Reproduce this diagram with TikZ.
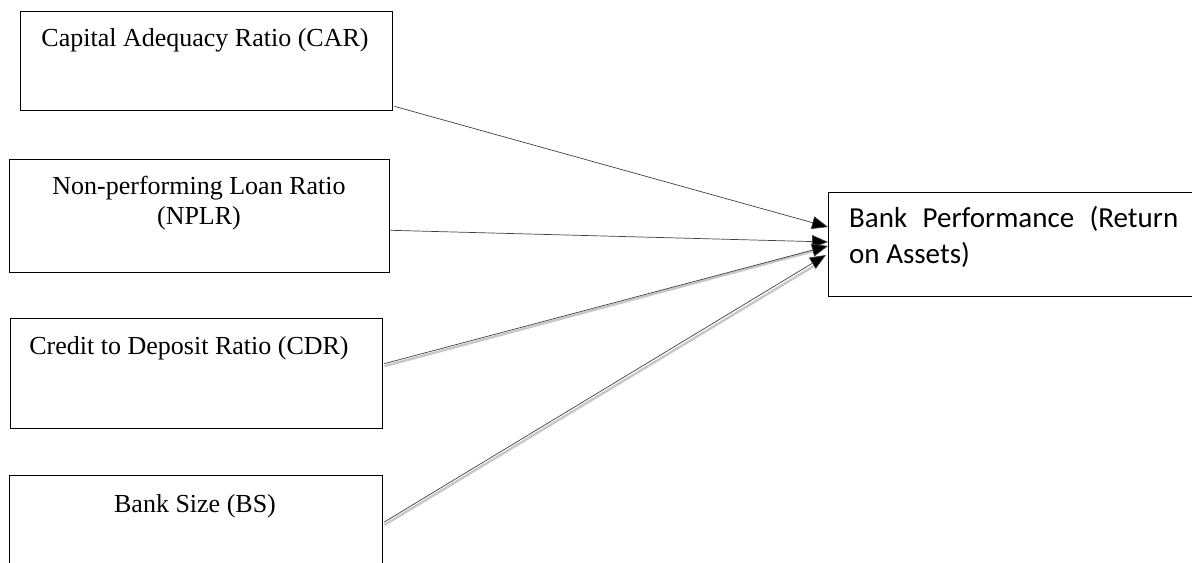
\documentclass[tikz,border=0pt]{standalone}
\usepackage{fontspec}
\setmainfont{Liberation Serif}
\newfontfamily\calib{Carlito}
\usetikzlibrary{arrows.meta,calc}
\begin{document}
\begin{tikzpicture}[x=1bp,y=-1bp,
  box/.style={draw=black,line width=1.3bp,rectangle,inner sep=0pt,anchor=north west},
  lbl/.style={font=\fontsize{26bp}{30bp}\selectfont,anchor=base,inner sep=0pt},
  conn/.style={draw=black!75,line width=0.7bp,-{Triangle[length=16bp,width=13bp,fill=black]}},
  shadeline/.style={draw=black!22,line width=2.4bp}]
\useasboundingbox (0,0) rectangle (1192,563);
\clip (0,0) rectangle (1192,563);

% boxes
\node[box,minimum width=372bp,minimum height=99bp] (car) at (20,11) {};
\node[box,minimum width=380bp,minimum height=113bp] (nplr) at (9,159) {};
\node[box,minimum width=372bp,minimum height=110bp] (cdr) at (10,318) {};
\node[box,minimum width=373bp,minimum height=110bp] (bs) at (9,475) {};
\node[box,minimum width=390bp,minimum height=104bp] (bp) at (828,192) {};

% labels
\node[lbl] (cart) at (205,47) {Capital Adequacy Ratio (CAR)};
\node[lbl] (nplrt) at (199,195) {\parbox[t]{370bp}{\centering\fontsize{26bp}{30bp}\selectfont Non-performing Loan Ratio\\(NPLR)}};
\node[lbl] (cdrt) at (189,355) {Credit to Deposit Ratio (CDR)};
\node[lbl] (bst) at (195,512) {Bank Size (BS)};
\node[anchor=base west,inner sep=0pt] (bpt) at (849,228) {\parbox[t]{329bp}{\calib\fontsize{29bp}{36bp}\selectfont\hbox to 329bp{Bank\hfill Performance\hfill (Return}\par on Assets)}};

% connector end points
\coordinate (carA) at ($(car.south east)+(1,-5)$);
\coordinate (nplrA) at ($(nplr.south east)+(0,-43)$);
\coordinate (cdrA) at ($(cdr.east)+(1,-10)$);
\coordinate (bsA) at ($(bs.north east)+(1,47)$);
\coordinate (carB) at ($(bp.north west)+(0,35)$);
\coordinate (nplrB) at ($(bp.north west)+(0,50)$);
\coordinate (cdrB) at ($(bp.north west)+(0,54)$);
\coordinate (bsB) at ($(bp.north west)+(-2,63)$);

% shadows
\draw[shadeline] ($(cdrA)+(0,2.5)$) -- ($(cdrB)+(-14,5)$);
\draw[shadeline] ($(bsA)+(0,3)$) -- ($(bsB)+(-12,11)$);

% connectors
\draw[conn] (carA) -- (carB);
\draw[conn] (nplrA) -- (nplrB);
\draw[conn] (cdrA) -- (cdrB);
\draw[conn] (bsA) -- (bsB);
\end{tikzpicture}
\end{document}
